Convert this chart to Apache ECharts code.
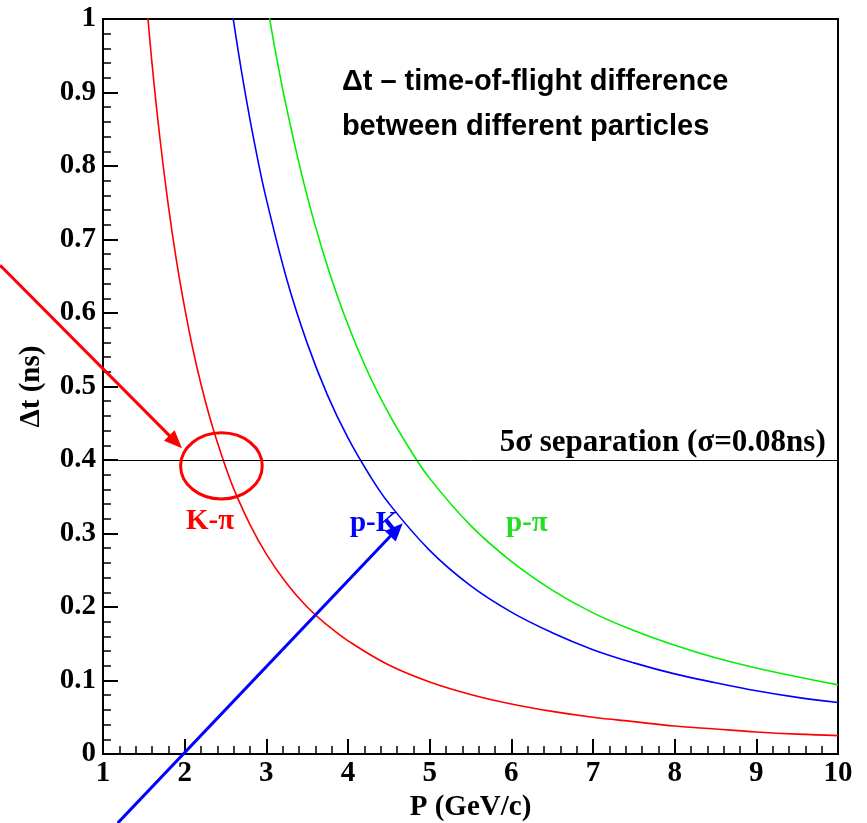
<!DOCTYPE html>
<html>
<head>
<meta charset="utf-8">
<script src="https://cdn.jsdelivr.net/npm/echarts@6/dist/echarts.min.js"></script>
<style>
html,body{margin:0;padding:0;background:#fff;}
#c{width:867px;height:823px;}
</style>
</head>
<body>
<div id="c"></div>
<script>
// ---- data ----
const kpiP  = [1.5, 1.6, 1.7, 1.8, 1.9, 2.0, 2.1, 2.2, 2.3, 2.4, 2.5, 2.6, 2.8, 3.0, 3.25, 3.5, 3.75, 4.0, 4.5, 5.0, 5.5, 6.0, 6.5, 7.0, 7.5, 8.0, 8.5, 9.0, 9.5, 10];
const kpiDt = [1.066, 0.940, 0.835, 0.746, 0.671, 0.607, 0.551, 0.503, 0.461, 0.424, 0.391, 0.361, 0.312, 0.272, 0.232, 0.200, 0.175, 0.154, 0.121, 0.098, 0.081, 0.068, 0.058, 0.050, 0.044, 0.038, 0.034, 0.030, 0.027, 0.025];

const pkP   = [2.5, 2.6, 2.7, 2.8, 2.9, 3.0, 3.25, 3.5, 3.75, 4.0, 4.25, 4.5, 5.0, 5.5, 6.0, 6.5, 7.0, 7.5, 8.0, 8.5, 9.0, 9.5, 10];
const pkDt  = [1.074, 0.996, 0.926, 0.863, 0.806, 0.755, 0.646, 0.559, 0.488, 0.430, 0.382, 0.341, 0.277, 0.229, 0.193, 0.165, 0.142, 0.124, 0.109, 0.097, 0.086, 0.077, 0.070];

const ppiP  = [3.0, 3.1, 3.25, 3.5, 3.75, 4.0, 4.25, 4.5, 4.75, 5.0, 5.5, 6.0, 6.5, 7.0, 7.5, 8.0, 8.5, 9.0, 9.5, 10];
const ppiDt = [1.027, 0.963, 0.878, 0.759, 0.663, 0.584, 0.518, 0.463, 0.416, 0.375, 0.311, 0.262, 0.223, 0.192, 0.168, 0.148, 0.131, 0.117, 0.105, 0.094];

const separationLevel = 0.4;
const xTicks = {min: 1, max: 10, step: 1};
const yTicks = {min: 0, max: 1, step: 0.1};

const seriesNames = ['K-π', 'p-K', 'p-π'];
const sepLabel = '5σ separation (σ=0.08ns)';
const noteLines = ['Δt – time-of-flight difference', 'between different particles'];

// annotation anchors (data units)
const labelPos = [[2.31, 0.316], [4.32, 0.313], [6.19, 0.314]];
const notePos = [[3.925, 0.914], [3.925, 0.853]];
const ellipseCenter = [2.45, 0.392];
const ellipseRadius = [0.50, 0.045];
const redArrow = [[-0.26, 0.665], [1.967, 0.416]];
const blueArrow = [[1.18, -0.094], [4.67, 0.314]];

// ---- chart ----
const RED = '#ff0000', BLUE = '#0000ff', GREEN = '#00f000', GREEN_TXT = '#22dd22';
const serif = 'Liberation Serif, Times New Roman, serif';
const sans = 'Liberation Sans, Arial, sans-serif';

function zip(a, b) { return a.map((v, i) => [v, b[i]]); }

const chart = echarts.init(document.getElementById('c'), null, {renderer: 'canvas'});

const axisCommon = {
  type: 'value',
  axisLine: {show: true, lineStyle: {color: '#000', width: 2}},
  axisTick: {show: true, inside: true, length: 15, lineStyle: {color: '#000', width: 2}},
  minorTick: {show: true, splitNumber: 5, length: 8, lineStyle: {color: '#000', width: 1.5}},
  splitLine: {show: false},
  minorSplitLine: {show: false},
  nameTextStyle: {fontFamily: serif, fontWeight: 'bold', fontSize: 29, color: '#000'}
};

chart.setOption({
  animation: false,
  backgroundColor: '#fff',
  grid: {left: 103, right: 29, top: 19, bottom: 69, containLabel: false, outerBoundsMode: 'none',
         show: true, borderColor: '#000', borderWidth: 2, backgroundColor: 'transparent'},
  xAxis: Object.assign({}, axisCommon, {
    min: xTicks.min, max: xTicks.max, interval: xTicks.step,
    name: 'P (GeV/c)', nameLocation: 'middle', nameGap: 39,
    axisLabel: {fontFamily: serif, fontWeight: 'bold', fontSize: 29, color: '#000', margin: 5}
  }),
  yAxis: Object.assign({}, axisCommon, {
    min: yTicks.min, max: yTicks.max, interval: yTicks.step,
    name: 'Δt (ns)', nameLocation: 'middle', nameGap: 57,
    axisLabel: {fontFamily: serif, fontWeight: 'bold', fontSize: 29, color: '#000', margin: 7}
  }),
  series: [
    {name: seriesNames[0], type: 'line', data: zip(kpiP, kpiDt), showSymbol: false, clip: true, smooth: 0.4,
     lineStyle: {color: RED, width: 1.6}, itemStyle: {color: RED},
     markLine: {silent: true, symbol: ['none', 'none'], label: {show: false},
       lineStyle: {color: '#000', width: 1, type: 'solid'}, data: [{yAxis: separationLevel}]}},
    {name: seriesNames[1], type: 'line', data: zip(pkP, pkDt), showSymbol: false, clip: true, smooth: 0.4,
     lineStyle: {color: BLUE, width: 1.6}, itemStyle: {color: BLUE}},
    {name: seriesNames[2], type: 'line', data: zip(ppiP, ppiDt), showSymbol: false, clip: true, smooth: 0.4,
     lineStyle: {color: GREEN, width: 1.6}, itemStyle: {color: GREEN}}
  ]
});

function px(p) { return chart.convertToPixel({gridIndex: 0}, p); }

function arrow(a, b, color, w, headLen, headW) {
  const p0 = px(a), p1 = px(b);
  const dx = p1[0] - p0[0], dy = p1[1] - p0[1];
  const L = Math.sqrt(dx * dx + dy * dy);
  const ux = dx / L, uy = dy / L;
  const bx = p1[0] - ux * headLen, by = p1[1] - uy * headLen;
  const nx = -uy, ny = ux;
  return [
    {type: 'line', z: 50, shape: {x1: p0[0], y1: p0[1], x2: bx + ux * 2, y2: by + uy * 2},
     style: {stroke: color, lineWidth: w}},
    {type: 'polygon', z: 50, shape: {points: [[p1[0], p1[1]], [bx + nx * headW / 2, by + ny * headW / 2], [bx - nx * headW / 2, by - ny * headW / 2]]},
     style: {fill: color}}
  ];
}

const g = [];
// separation label
const sp = px([9.85, separationLevel]);
g.push({type: 'text', z: 40, x: sp[0], y: sp[1] - 2, style: {text: sepLabel, font: 'bold 31px ' + serif, fill: '#000', align: 'right', verticalAlign: 'bottom'}});
// note text
notePos.forEach((p, i) => {
  const q = px(p);
  g.push({type: 'text', z: 40, x: q[0], y: q[1], style: {text: noteLines[i], font: 'bold 29px ' + sans, fill: '#000', align: 'left', verticalAlign: 'middle'}});
});
// series labels
const labelColors = [RED, BLUE, GREEN_TXT];
labelPos.forEach((p, i) => {
  const q = px(p);
  g.push({type: 'text', z: 40, x: q[0], y: q[1], style: {text: seriesNames[i], font: 'bold 29px ' + serif, fill: labelColors[i], align: 'center', verticalAlign: 'middle'}});
});
// ellipse
const ec = px(ellipseCenter);
const er = px([ellipseCenter[0] + ellipseRadius[0], ellipseCenter[1] + ellipseRadius[1]]);
g.push({type: 'ellipse', z: 45, shape: {cx: ec[0], cy: ec[1], rx: Math.abs(er[0] - ec[0]), ry: Math.abs(er[1] - ec[1])}, style: {fill: 'none', stroke: RED, lineWidth: 3}});
// arrows
arrow(redArrow[0], redArrow[1], RED, 3, 18, 15).forEach(e => g.push(e));
arrow(blueArrow[0], blueArrow[1], BLUE, 3, 18, 15).forEach(e => g.push(e));

chart.setOption({graphic: g});
</script>
</body>
</html>
